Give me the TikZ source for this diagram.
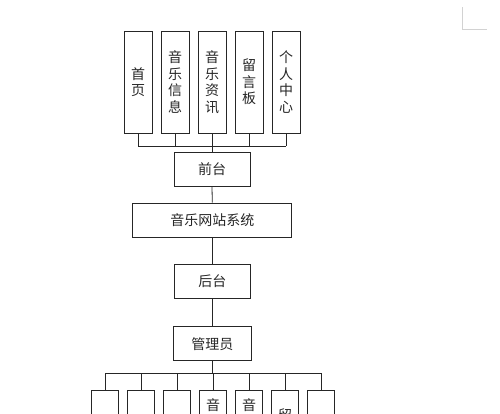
\documentclass[tikz,border=0pt]{standalone}
\usepackage{fontspec}
\newfontfamily\cjk{Noto Sans CJK SC}
\begin{document}
\begin{tikzpicture}[x=1pt,y=-1pt,
  box/.style={draw=black!85, line width=0.8pt, rectangle, inner sep=0pt, font=\cjk\fontsize{14}{16.5}\selectfont, text=black!85, align=center},
  vbox/.style={box, minimum width=28pt, minimum height=102pt},
  hbox/.style={box, minimum width=76pt, minimum height=34pt},
  bbox/.style={draw=black!85, line width=0.8pt, rectangle, inner sep=0pt, minimum width=27pt, minimum height=60pt, anchor=north},
  txt/.style={inner sep=0pt, font=\cjk\fontsize{14}{16.5}\selectfont, text=black!85},
  conn/.style={draw=black!85, line width=0.8pt}]
\useasboundingbox (0,0) rectangle (500,413);
\clip (0,0) rectangle (500,413);
% page corner mark
\draw[gray!35, line width=0.6pt] (462,7) -- (462,29) -- (487,29);
% top row
\node[vbox] (t1) at (138,82) {首\\页};
\node[vbox] (t2) at (175,82) {音\\乐\\信\\息};
\node[vbox] (t3) at (212,82) {音\\乐\\资\\讯};
\node[vbox] (t4) at (249,82) {留\\言\\板};
\node[vbox] (t5) at (286,82) {个\\人\\中\\心};
\coordinate (bus1) at (212,146);
\node[hbox] (front) at (212,169.5) {前台};
\node[box, minimum width=159pt, minimum height=34pt] (sys) at (212.3,220) {音乐网站系统};
\node[hbox] (back) at (212.3,281) {后台};
\node[box, minimum width=78pt, minimum height=34pt] (admin) at (212.3,343.7) {管理员};
\coordinate (bus2) at (212.3,373.3);
% bottom row
\foreach \i/\x in {1/105,2/141,3/177,4/213,5/249,6/285,7/321}{
  \node[bbox] (b\i) at (\x,390) {};
}
\node[txt] (b4t) at (213,405.5) {音};
\node[txt] (b5t) at (249,405.5) {音};
\node[txt] (b6t) at (285,415) {留};
% connectors
\foreach \i in {1,2,4,5}{ \draw[conn] (t\i.south) -- (t\i.south |- bus1); }
\draw[conn] (t1.south |- bus1) -- (t5.south |- bus1);
\draw[conn] (t3.south) -- (front.north);
\draw[conn] (front.south) -- (sys.north);
\draw[conn] (sys.south) -- (back.north);
\draw[conn] (back.south) -- (admin.north);
\draw[conn] (admin.south) -- (bus2);
\draw[conn] (b1.north |- bus2) -- (b7.north |- bus2);
\foreach \i in {1,...,7}{ \draw[conn] (b\i.north |- bus2) -- (b\i.north); }
\end{tikzpicture}
\end{document}
